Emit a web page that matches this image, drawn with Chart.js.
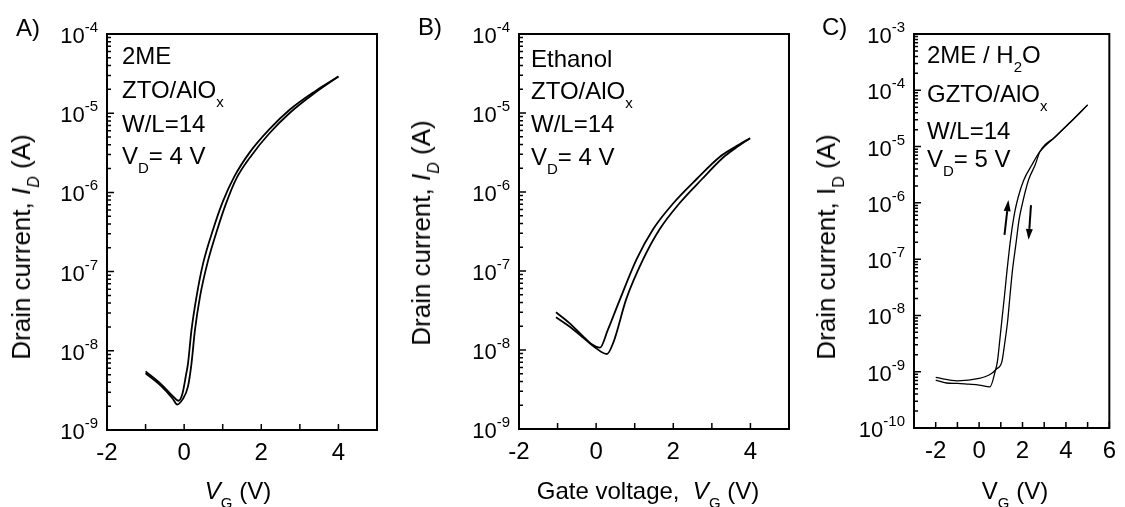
<!DOCTYPE html>
<html>
<head>
<meta charset="utf-8">
<script src="https://cdn.jsdelivr.net/npm/chart.js@4.4.1/dist/chart.umd.min.js"></script>
<style>
body { margin: 0; background: #fff; }
#wrap { position: relative; width: 1125px; height: 507px; overflow: hidden; }
canvas { position: absolute; left: 0; top: 0; }
.t { position: absolute; font: 24px/24px 'Liberation Sans', Arial, sans-serif; color: #000; white-space: nowrap; }
.s { font-size: 15px; position: relative; top: 9px; }
.yt { font-size: 26px; line-height: 26px; transform: translate(-50%, -50%) rotate(-90deg); }
.yt .s { font-size: 16px; }
.xt { transform: translateX(-50%); }
</style>
</head>
<body>
<div id="wrap">
  <canvas id="cA" width="1125" height="507"></canvas>
  <canvas id="cB" width="1125" height="507"></canvas>
  <canvas id="cC" width="1125" height="507"></canvas>

  <div class="t" style="left:16px;top:16px">A)</div>
  <div class="t" style="left:418px;top:15px">B)</div>
  <div class="t" style="left:822px;top:15px">C)</div>

  <div class="t" style="left:122px;top:44px">2ME</div>
  <div class="t" style="left:122px;top:78px">ZTO/AlO<span class="s">x</span></div>
  <div class="t" style="left:122px;top:112px">W/L=14</div>
  <div class="t" style="left:122px;top:144px">V<span class="s">D</span>= 4 V</div>

  <div class="t" style="left:531px;top:47px">Ethanol</div>
  <div class="t" style="left:531px;top:79px">ZTO/AlO<span class="s">x</span></div>
  <div class="t" style="left:531px;top:112px">W/L=14</div>
  <div class="t" style="left:531px;top:145px">V<span class="s">D</span>= 4 V</div>

  <div class="t" style="left:927px;top:43px">2ME / H<span class="s">2</span>O</div>
  <div class="t" style="left:927px;top:82px">GZTO/AlO<span class="s">x</span></div>
  <div class="t" style="left:927px;top:119px">W/L=14</div>
  <div class="t" style="left:927px;top:147px">V<span class="s">D</span>= 5 V</div>

  <div class="t yt" style="left:23px;top:247px">Drain current, <i>I</i><span class="s"><i>D</i></span> (A)</div>
  <div class="t yt" style="left:423px;top:233px">Drain current, <i>I</i><span class="s"><i>D</i></span> (A)</div>
  <div class="t yt" style="left:828px;top:247px">Drain current, I<span class="s">D</span> (A)</div>

  <div class="t xt" style="left:238px;top:479px"><i>V</i><span class="s">G</span> (V)</div>
  <div class="t xt" style="left:648px;top:479px">Gate voltage,&nbsp; <i>V</i><span class="s">G</span> (V)</div>
  <div class="t xt" style="left:1015px;top:479px">V<span class="s">G</span> (V)</div>
</div>
<script>
const FONT = "'Liberation Sans', Arial, sans-serif";
const W = 1125, H = 507;

// Panel A: 2ME, ZTO/AlOx, VD = 4 V
const vgA1 = [-1.0, -0.6, -0.3, -0.15, -0.05, 0.05, 0.10, 0.19, 0.32, 0.49, 0.75, 1.0, 1.3, 1.7, 2.2, 2.75, 3.4, 4.0];
const idA1 = [5.5e-9, 3.8e-9, 2.7e-9, 2.34e-9, 2.8e-9, 5.0e-9, 6.9e-9, 1.82e-8, 4.8e-8, 1.26e-7, 3.4e-7, 7.6e-7, 1.58e-6, 3.2e-6, 6.2e-6, 1.12e-5, 1.9e-5, 2.9e-5];
const vgA2 = [4.0, 3.4, 2.75, 2.2, 1.75, 1.35, 1.08, 0.86, 0.60, 0.41, 0.28, 0.19, 0.10, -0.05, -0.18, -0.3, -0.6, -1.0];
const idA2 = [2.9e-5, 1.82e-5, 1.02e-5, 5.5e-6, 2.95e-6, 1.48e-6, 7.1e-7, 3.4e-7, 1.26e-7, 4.8e-8, 1.82e-8, 6.9e-9, 3.55e-9, 2.4e-9, 2.1e-9, 2.5e-9, 3.6e-9, 5.2e-9];

// Panel B: Ethanol, ZTO/AlOx, VD = 4 V
const vgB1 = [-1.04, -0.7, -0.35, -0.1, 0.1, 0.3, 0.62, 1.05, 1.48, 2.0, 2.6, 3.21, 3.6, 3.99];
const idB1 = [3.0e-8, 2.2e-8, 1.51e-8, 1.17e-8, 1.07e-8, 1.78e-8, 4.4e-8, 1.41e-7, 3.4e-7, 7.2e-7, 1.45e-6, 2.8e-6, 3.7e-6, 4.8e-6];
const vgB2 = [3.99, 3.6, 3.3, 2.74, 2.16, 1.65, 1.22, 0.78, 0.45, 0.28, 0.0, -0.35, -0.7, -1.04];
const idB2 = [4.8e-6, 3.55e-6, 2.75e-6, 1.45e-6, 7.2e-7, 3.4e-7, 1.41e-7, 4.4e-8, 1.26e-8, 8.9e-9, 1.05e-8, 1.45e-8, 2.0e-8, 2.6e-8];

// Panel C: 2ME / H2O, GZTO/AlOx, VD = 5 V
const vgC1 = [-2.0, -1.5, -1.0, -0.5, 0.0, 0.5, 0.75, 0.85, 0.95, 1.05, 1.17, 1.29, 1.40, 1.52, 1.65, 1.80, 2.05, 2.43, 2.8, 3.5, 4.2, 5.0];
const idC1 = [7.1e-10, 6.3e-10, 6.2e-10, 6.0e-10, 5.8e-10, 5.4e-10, 1.05e-9, 1.58e-9, 3.55e-9, 8.3e-9, 2.24e-8, 6.5e-8, 1.58e-7, 3.55e-7, 7.1e-7, 1.26e-6, 2.5e-6, 4.7e-6, 8.1e-6, 1.48e-5, 2.7e-5, 5.5e-5];
const vgC2 = [5.0, 4.2, 3.5, 2.8, 2.58, 2.28, 1.96, 1.84, 1.70, 1.54, 1.43, 1.32, 1.18, 1.05, 0.8, 0.5, 0.0, -1.0, -2.0];
const idC2 = [5.5e-5, 2.7e-5, 1.48e-5, 8.1e-6, 4.7e-6, 2.57e-6, 8.5e-7, 5.0e-7, 1.9e-7, 6.5e-8, 2.4e-8, 8.3e-9, 3.2e-9, 1.51e-9, 1.12e-9, 8.9e-10, 7.6e-10, 6.9e-10, 7.9e-10];

// sweep direction arrows in panel C (tail -> head)
const arrowsC = [
  { x1: 1.17, y1: 2.7e-7, x2: 1.35, y2: 1.12e-6 },
  { x1: 2.39, y1: 9.1e-7, x2: 2.28, y2: 2.2e-7 }
];

const xTicksA = [-2, 0, 2, 4];
const xTicksB = [-2, 0, 2, 4];
const xTicksC = [-2, 0, 2, 4, 6];
const decadesA = [-9, -8, -7, -6, -5, -4];
const decadesB = [-9, -8, -7, -6, -5, -4];
const decadesC = [-10, -9, -8, -7, -6, -5, -4, -3];

const frame = {
    id: 'frame',
    afterDatasetsDraw(chart, args, opts) {
        const { ctx, chartArea: a } = chart;
        const x = chart.scales.x, y = chart.scales.y;
        ctx.save();
        ctx.strokeStyle = '#000';
        ctx.fillStyle = '#000';
        ctx.lineWidth = 1.5;
        ctx.beginPath();
        for (let v = Math.ceil(x.min); v <= x.max; v++) {
            const px = x.getPixelForValue(v);
            ctx.moveTo(px, a.bottom);
            ctx.lineTo(px, a.bottom - 6);
        }
        const last = opts.decades.length - 1;
        opts.decades.forEach((e, i) => {
            for (let m = 1; m <= 9; m++) {
                if (m > 1 && i === last) break;
                const py = y.getPixelForValue(m * Math.pow(10, e));
                ctx.moveTo(a.left, py);
                ctx.lineTo(a.left + (m === 1 ? 7 : 4), py);
            }
        });
        ctx.stroke();
        ctx.lineWidth = 2;
        ctx.strokeRect(a.left, a.top, a.right - a.left, a.bottom - a.top);

        // y tick labels: "10" with a raised exponent
        ctx.textBaseline = 'alphabetic';
        ctx.textAlign = 'left';
        opts.decades.forEach(e => {
            const py = y.getPixelForValue(Math.pow(10, e));
            const exp = String(e);
            ctx.font = '15px ' + FONT;
            const ew = ctx.measureText(exp).width;
            ctx.font = '22px ' + FONT;
            const bw = ctx.measureText('10').width;
            const right = a.left - 9;
            ctx.fillText('10', right - ew - bw, py + 9);
            ctx.font = '15px ' + FONT;
            ctx.fillText(exp, right - ew, py - 2);
        });

        (opts.arrows || []).forEach(ar => {
            const x1 = x.getPixelForValue(ar.x1), y1 = y.getPixelForValue(ar.y1);
            const x2 = x.getPixelForValue(ar.x2), y2 = y.getPixelForValue(ar.y2);
            const ang = Math.atan2(y2 - y1, x2 - x1);
            const hl = 11, hw = 3.5;
            const bx = x2 - hl * Math.cos(ang), by = y2 - hl * Math.sin(ang);
            ctx.lineWidth = 2;
            ctx.beginPath();
            ctx.moveTo(x1, y1);
            ctx.lineTo(bx, by);
            ctx.stroke();
            ctx.beginPath();
            ctx.moveTo(x2, y2);
            ctx.lineTo(bx + hw * Math.sin(ang), by - hw * Math.cos(ang));
            ctx.lineTo(bx - hw * Math.sin(ang), by + hw * Math.cos(ang));
            ctx.closePath();
            ctx.fill();
        });
        ctx.restore();
    }
};

function panel(id, area, xRange, xTicks, yRange, decades, sets, lw, arrows) {
    const datasets = sets.map(s => ({
        data: s[0].map((v, i) => ({ x: v, y: s[1][i] })),
        showLine: true,
        borderColor: '#000',
        borderWidth: lw,
        pointRadius: 0,
        cubicInterpolationMode: 'monotone',
        fill: false
    }));
    new Chart(document.getElementById(id), {
        type: 'scatter',
        data: { datasets },
        options: {
            responsive: false,
            animation: false,
            events: [],
            layout: {
                padding: { left: area[0], right: W - area[1], top: area[2], bottom: H - area[3] - 40 }
            },
            plugins: {
                legend: { display: false },
                tooltip: { enabled: false },
                frame: { decades, arrows }
            },
            scales: {
                x: {
                    type: 'linear',
                    min: xRange[0],
                    max: xRange[1],
                    grid: { display: false, drawTicks: false },
                    border: { display: false },
                    afterBuildTicks: s => { s.ticks = xTicks.map(v => ({ value: v })); },
                    afterFit: s => { s.height = 40; },
                    ticks: {
                        color: '#000',
                        font: { family: FONT, size: 24 },
                        padding: 9,
                        maxRotation: 0,
                        autoSkip: false,
                        callback: v => String(v)
                    }
                },
                y: {
                    type: 'logarithmic',
                    min: yRange[0],
                    max: yRange[1],
                    grid: { display: false },
                    border: { display: false },
                    ticks: { display: false },
                    afterFit: s => { s.width = 0; }
                }
            }
        },
        plugins: [frame]
    });
}

panel('cA', [107, 377, 34, 430], [-2, 5], xTicksA, [1e-9, 1e-4], decadesA,
    [[vgA1, idA1], [vgA2, idA2]], 1.8, []);
panel('cB', [519, 789, 34, 429], [-2, 5], xTicksB, [1e-9, 1e-4], decadesB,
    [[vgB1, idB1], [vgB2, idB2]], 1.8, []);
panel('cC', [914, 1117, 34, 428], [-3, 6], xTicksC, [1e-10, 1e-3], decadesC,
    [[vgC1, idC1], [vgC2, idC2]], 1.3, arrowsC);
</script>
</body>
</html>
